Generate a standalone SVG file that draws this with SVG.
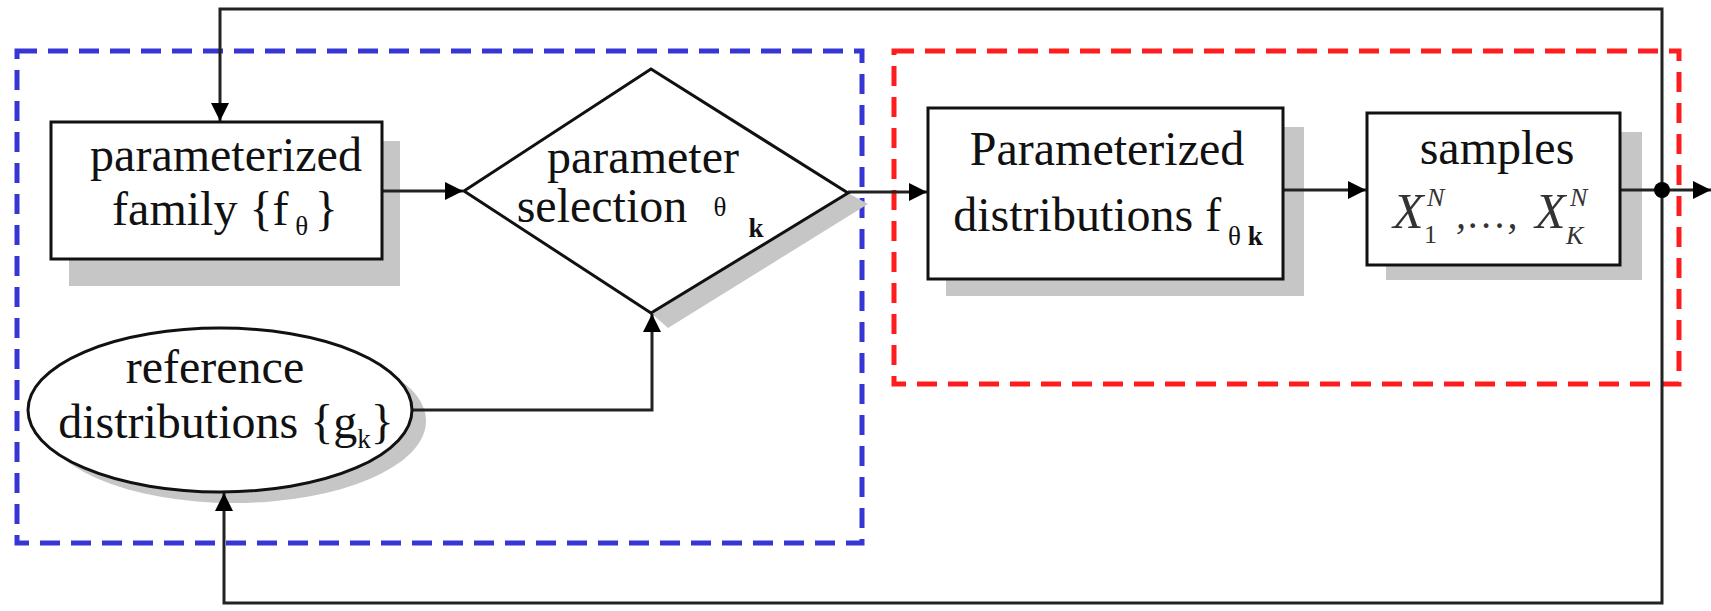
<svg xmlns="http://www.w3.org/2000/svg" width="1711" height="611" viewBox="0 0 1711 611">
  <defs>
    <marker id="arrow" viewBox="0 0 10 10" refX="10" refY="5" markerWidth="18" markerHeight="18" markerUnits="userSpaceOnUse" orient="auto">
      <path d="M0,0 L10,5 L0,10 z" fill="#000"/>
    </marker>
    <style>
      .node { fill: #fff; stroke: #111; stroke-width: 3; }
      .shadow { fill: #c6c6c6; stroke: none; }
      .wire { fill: none; stroke: #222; stroke-width: 3; }
      .lbl { font-family: "Liberation Serif", "DejaVu Serif", serif; font-size: 48px; fill: #111; text-anchor: middle; }
      .sub { font-size: 27px; }
      .math { font-family: "Liberation Serif", "DejaVu Serif", serif; font-style: italic; fill: #333; }
      .group-blue { fill: none; stroke: #3636d4; stroke-width: 5; stroke-dasharray: 20 11; }
      .group-red { fill: none; stroke: #ff1c1c; stroke-width: 5; stroke-dasharray: 20 11; }
    </style>
  </defs>
  <rect width="1711" height="611" fill="#fff"/>

  <!-- dashed grouping frames -->
  <g id="frames">
    <rect class="group-blue" x="17" y="51" width="845" height="492"/>
    <rect class="group-red" x="894" y="51" width="785" height="333"/>
  </g>

  <!-- drop shadows -->
  <g id="shadows">
    <rect class="shadow" x="69" y="141" width="331" height="145"/>
    <polygon class="shadow" points="848,193 868,204 668,328 651,313"/>
    <ellipse class="shadow" cx="234" cy="421" rx="192" ry="82"/>
    <rect class="shadow" x="946" y="127" width="358" height="169"/>
    <rect class="shadow" x="1386" y="132" width="256" height="148"/>
  </g>

  <!-- connectors -->
  <g id="connectors">
    <polyline class="wire" points="1662,190 1662,9 220,9 220,121" marker-end="url(#arrow)"/>
    <polyline class="wire" points="1662,190 1662,603 224,603 224,493" marker-end="url(#arrow)"/>
    <line class="wire" x1="382" y1="191" x2="463" y2="191" marker-end="url(#arrow)"/>
    <line class="wire" x1="848" y1="192" x2="927" y2="192" marker-end="url(#arrow)"/>
    <line class="wire" x1="1284" y1="190" x2="1366" y2="190" marker-end="url(#arrow)"/>
    <line class="wire" x1="1620" y1="190" x2="1711" y2="190" marker-end="url(#arrow)"/>
    <polyline class="wire" points="412,410 652,410 652,314" marker-end="url(#arrow)"/>
    <circle cx="1662" cy="190" r="8" fill="#000"/>
  </g>

  <!-- parameterized family -->
  <g id="param-family">
    <rect class="node" x="51" y="122" width="331" height="137"/>
    <text class="lbl" x="226" y="171">parameterized</text>
    <text class="lbl" x="225" y="225">family {f<tspan class="sub" dy="10">  θ  </tspan><tspan dy="-10">}</tspan></text>
  </g>

  <!-- parameter selection -->
  <g id="param-selection">
    <polygon class="node" points="651,69 848,193 651,313 464,191"/>
    <text class="lbl" x="643" y="173">parameter</text>
    <text class="lbl" x="602" y="222">selection</text>
    <text class="lbl sub" x="720" y="216">θ</text>
    <text class="lbl sub" x="756" y="237" font-weight="bold">k</text>
  </g>

  <!-- reference distributions -->
  <g id="ref-distributions">
    <ellipse class="node" cx="220" cy="410" rx="192" ry="82"/>
    <text class="lbl" x="215" y="383">reference</text>
    <text class="lbl" x="226" y="438">distributions {g<tspan class="sub" dy="10">k</tspan><tspan dy="-10">}</tspan></text>
  </g>

  <!-- parameterized distributions -->
  <g id="param-distributions">
    <rect class="node" x="928" y="108" width="355" height="171"/>
    <text class="lbl" x="1107" y="165">Parameterized</text>
    <text class="lbl" x="1108" y="231">distributions f<tspan class="sub" dy="14"> θ <tspan font-weight="bold">k</tspan></tspan></text>
  </g>

  <!-- samples -->
  <g id="samples">
    <rect class="node" x="1367" y="113" width="253" height="152"/>
    <text class="lbl" x="1497" y="164">samples</text>
    <text class="math" font-size="50"><tspan x="1393" y="228">X</tspan><tspan font-size="26" x="1427" y="206">N</tspan><tspan font-size="26" font-style="normal" x="1424" y="243">1</tspan><tspan font-size="40" x="1456" y="228" letter-spacing="3">,…,</tspan><tspan x="1535" y="228">X</tspan><tspan font-size="26" x="1570" y="206">N</tspan><tspan font-size="26" x="1566" y="244">K</tspan></text>
  </g>
</svg>
